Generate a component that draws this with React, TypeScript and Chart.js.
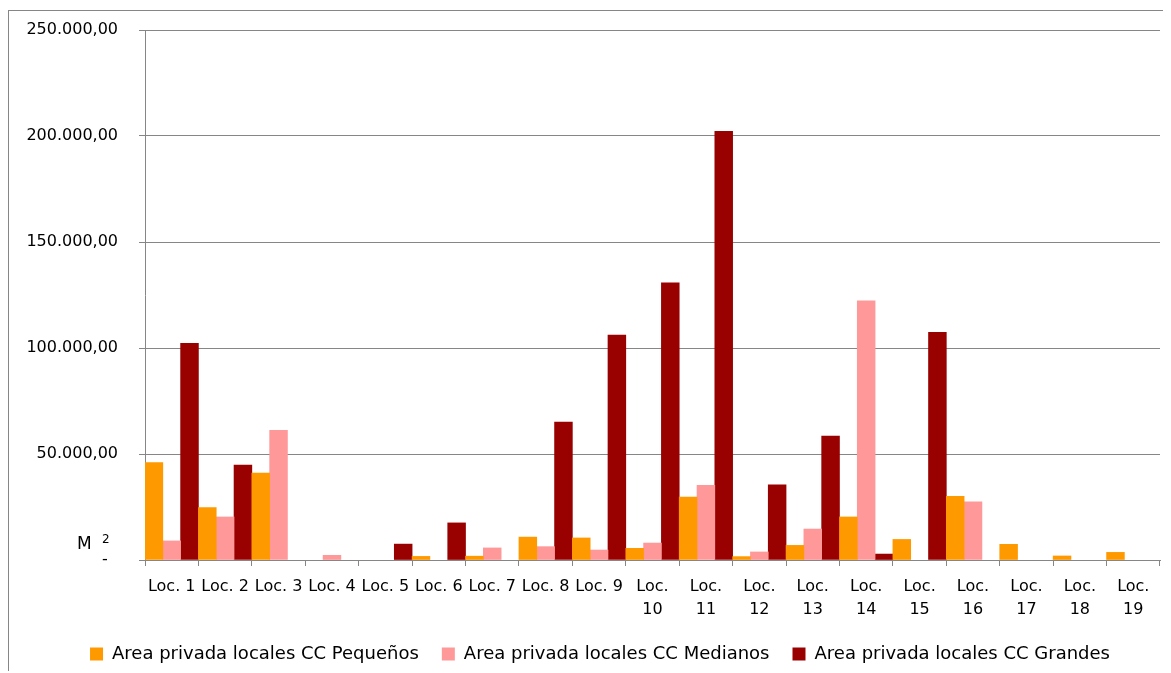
import React, { useEffect, useRef } from "react";
import { Chart, registerables } from "chart.js";

Chart.register(...registerables);

// Locations along the x axis
const categories = [
  "Loc. 1", "Loc. 2", "Loc. 3", "Loc. 4", "Loc. 5", "Loc. 6", "Loc. 7",
  "Loc. 8", "Loc. 9", "Loc. 10", "Loc. 11", "Loc. 12", "Loc. 13",
  "Loc. 14", "Loc. 15", "Loc. 16", "Loc. 17", "Loc. 18", "Loc. 19",
];

// Private area (m²) per shopping-centre size
const pequenos = [
  45900, 24700, 41000, 0, 0, 1700, 1800, 10800, 10400, 5500,
  29700, 1600, 6900, 20300, 9700, 30000, 7400, 1900, 3600,
];
const medianos = [
  9000, 20300, 61200, 2200, 0, 0, 5700, 6300, 4700, 8000,
  35200, 3800, 14600, 122200, 0, 27400, 0, 0, 0,
];
const grandes = [
  102200, 44800, 0, 0, 7500, 17500, 0, 65000, 106100, 130700,
  202200, 35500, 58500, 2800, 107400, 0, 0, 0, 0,
];

const seriesNames = [
  "Area privada locales CC Pequeños",
  "Area privada locales CC Medianos",
  "Area privada locales CC Grandes",
];

const yMax = 250000;
const yStep = 50000;
const unitLabel = "M";
const unitExponent = "2";

const FONT = "'DejaVu Sans', sans-serif";
const GRID = "#868686";

const formatValue = (v: number) =>
  v === 0
    ? "-  "
    : String(Math.round(v)).replace(/\B(?=(\d{3})+(?!\d))/g, ".") + ",00";

// Empty cells are left out instead of drawn as zero-height slivers
const asBars = (values: number[]) => values.map((v) => (v === 0 ? null : v));

// Draws the "M²" unit marker just above the zero line, left of the axis
const unitPlugin = {
  id: "unitLabel",
  afterDraw(chart: any) {
    const { ctx, chartArea, scales } = chart;
    const y0 = scales.y.getPixelForValue(0);
    const x = chartArea.left - 68;
    ctx.save();
    ctx.fillStyle = "#000";
    ctx.textAlign = "left";
    ctx.textBaseline = "alphabetic";
    ctx.font = `17px ${FONT}`;
    ctx.fillText(unitLabel, x, y0 - 11);
    ctx.font = `12px ${FONT}`;
    ctx.fillText(unitExponent, x + 25, y0 - 17);
    ctx.restore();
  },
};

export default function App() {
  const canvasRef = useRef<HTMLCanvasElement | null>(null);

  useEffect(() => {
    // The framed chart runs past the right/bottom edge of the window
    document.documentElement.style.overflow = "hidden";
    const canvas = canvasRef.current;
    if (!canvas) return;

    const chart = new Chart(canvas, {
      type: "bar",
      data: {
        labels: categories,
        datasets: [
          { label: seriesNames[0], data: asBars(pequenos), backgroundColor: "#FF9900" },
          { label: seriesNames[1], data: asBars(medianos), backgroundColor: "#FF9999" },
          { label: seriesNames[2], data: asBars(grandes), backgroundColor: "#990000" },
        ],
      },
      options: {
        responsive: false,
        animation: false,
        layout: { padding: { top: 19, left: 0, right: 0, bottom: 0 } },
        datasets: {
          bar: { barPercentage: 1, categoryPercentage: 1, borderWidth: 0 },
        },
        plugins: {
          tooltip: { enabled: false },
          legend: {
            position: "bottom",
            labels: {
              boxWidth: 13,
              boxHeight: 13,
              padding: 23,
              color: "#000",
              font: { family: FONT, size: 18 },
            },
          },
        },
        scales: {
          x: {
            grid: {
              drawOnChartArea: false,
              drawTicks: true,
              offset: true,
              tickLength: 6,
              color: GRID,
            },
            border: { color: GRID },
            ticks: {
              color: "#000",
              font: { family: FONT, size: 16, lineHeight: 1.4 },
              padding: 10,
              maxRotation: 0,
              autoSkip: false,
              callback: (_v: any, i: number) => {
                const lab = categories[i];
                const parts = lab.split(" ");
                return Number(parts[1]) >= 10 ? [parts[0], parts[1]] : lab;
              },
            },
            afterFit: (s: any) => {
              s.height = 62;
              s.paddingLeft = 0;
              s.paddingRight = 31;
            },
          },
          y: {
            min: 0,
            max: yMax,
            grid: { color: GRID, tickLength: 6 },
            border: { color: GRID },
            ticks: {
              stepSize: yStep,
              color: "#000",
              font: { family: FONT, size: 16 },
              padding: 21,
              callback: (v: any) => formatValue(Number(v)),
            },
            afterFit: (s: any) => {
              s.width = 136;
              s.paddingTop = 0;
              s.paddingBottom = 0;
            },
          },
        },
      },
      plugins: [unitPlugin],
    });

    return () => chart.destroy();
  }, []);

  return (
    <div
      style={{
        position: "relative",
        top: 2,
        width: 1183,
        height: 663,
        borderLeft: `1px solid ${GRID}`,
        borderTop: `1px solid ${GRID}`,
        boxSizing: "border-box",
      }}
    >
      <canvas ref={canvasRef} width={1182} height={662} style={{ display: "block" }} />
    </div>
  );
}
